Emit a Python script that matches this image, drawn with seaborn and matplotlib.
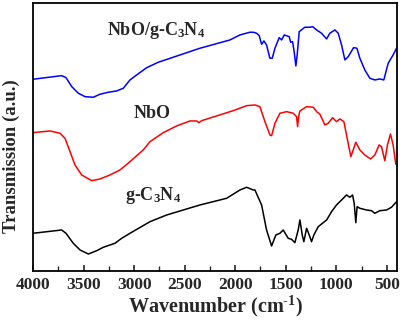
import matplotlib
matplotlib.use("Agg")
import matplotlib.pyplot as plt
import seaborn as sns
import pandas as pd
from matplotlib.ticker import MultipleLocator

# ---- data (wavenumber, transmission in arbitrary offset units) ----
blue_wn = [4000, 3717, 3674, 3617, 3552, 3486, 3404, 3338, 3256, 3173, 3107, 3041, 2975, 2875,
           2761, 2349, 2052, 1953, 1855, 1822, 1789, 1763, 1739, 1716, 1690, 1657, 1634, 1607,
           1565, 1541, 1515, 1466, 1452, 1433, 1417, 1400, 1387, 1367, 1311, 1261, 1235, 1195,
           1146, 1096, 1064, 1014, 981, 948, 915, 882, 829, 796, 767, 718, 668, 619, 569, 530,
           487, 438, 404]
blue_t = [220.7, 224.3, 222.3, 213.3, 206.7, 203.3, 202.7, 205.7, 207.7, 209.0, 211.7, 220.0,
          225.0, 232.3, 237.7, 251.7, 260.0, 265.0, 267.7, 267.7, 266.7, 264.3, 255.7, 259.0,
          255.0, 241.7, 241.7, 251.7, 262.3, 260.0, 265.0, 263.3, 257.7, 258.3, 248.3, 234.0,
          245.0, 268.3, 272.7, 272.7, 273.3, 270.0, 266.7, 261.0, 266.7, 270.0, 266.7, 255.0,
          240.0, 243.3, 252.3, 251.7, 241.7, 230.0, 221.7, 220.0, 221.0, 220.0, 236.7, 245.0,
          251.7]

red_wn = [4000, 3832, 3733, 3684, 3634, 3585, 3519, 3420, 3338, 3239, 3140, 3041, 2910, 2843,
          2712, 2580, 2448, 2382, 2359, 2332, 2184, 2020, 1887, 1805, 1756, 1706, 1657, 1640,
          1607, 1558, 1492, 1426, 1393, 1383, 1373, 1360, 1294, 1228, 1195, 1162, 1113, 1080,
          1037, 998, 965, 925, 899, 856, 807, 767, 718, 661, 619, 576, 553, 520, 494, 464, 438,
          411]
red_t = [167.3, 169.0, 166.7, 161.7, 148.3, 135.0, 125.0, 119.3, 121.0, 125.0, 130.0, 138.3,
         150.0, 158.3, 167.3, 174.0, 179.0, 179.0, 177.3, 179.3, 184.0, 189.3, 194.3, 195.0,
         193.3, 178.3, 165.0, 164.3, 176.7, 186.7, 188.3, 186.7, 183.3, 173.3, 183.3, 189.0,
         193.3, 192.7, 188.3, 185.7, 175.0, 176.7, 182.3, 178.3, 181.0, 178.3, 165.0, 143.3,
         157.7, 150.0, 145.0, 141.0, 145.0, 155.0, 153.3, 139.3, 155.0, 166.0, 155.0, 135.7]

black_wn = [4000, 3717, 3674, 3602, 3535, 3453, 3370, 3305, 3190, 3123, 3041, 2843, 2678, 2349,
            2085, 1953, 1887, 1822, 1805, 1739, 1690, 1640, 1598, 1558, 1525, 1476, 1443, 1410,
            1377, 1360, 1337, 1321, 1294, 1268, 1245, 1222, 1179, 1096, 1047, 998, 948, 899, 866,
            839, 823, 807, 794, 767, 701, 652, 619, 569, 503, 454, 404]
black_t = [66.7, 70.0, 66.7, 56.7, 50.0, 46.0, 49.3, 52.7, 56.7, 61.7, 66.7, 78.3, 85.0, 95.0,
           101.7, 110.0, 112.7, 110.0, 110.0, 95.0, 70.0, 54.0, 65.0, 66.7, 70.0, 61.7, 60.7,
           57.3, 70.0, 80.0, 65.0, 58.3, 71.7, 65.0, 58.3, 65.0, 73.3, 80.0, 88.3, 95.0, 100.0,
           105.0, 102.7, 105.0, 96.7, 77.3, 93.3, 91.7, 90.0, 89.3, 86.7, 89.3, 90.0, 92.7, 98.3]

labels = ["NbO/g-C$_3$N$_4$", "NbO", "g-C$_3$N$_4$"]
x_ticks = [4000, 3500, 3000, 2500, 2000, 1500, 1000, 500]

sns.set_style("ticks")
plt.rcParams['font.family'] = ['Liberation Serif', 'DejaVu Serif']
plt.rcParams['font.weight'] = 'bold'
plt.rcParams['mathtext.fontset'] = 'custom'
plt.rcParams['mathtext.rm'] = 'Liberation Serif:bold'
plt.rcParams['mathtext.it'] = 'Liberation Serif:bold'
plt.rcParams['mathtext.bf'] = 'Liberation Serif:bold'
plt.rcParams['mathtext.default'] = 'rm'

fig = plt.figure(figsize=(4.03, 3.23), dpi=100)
ax = fig.add_axes([0.082, 0.161, 0.903, 0.829])

series = [(blue_wn, blue_t, "#0000ff"), (red_wn, red_t, "#ff0000"), (black_wn, black_t, "#000000")]
for wn, t, c in series:
    df = pd.DataFrame({"wn": wn, "t": t})
    sns.lineplot(data=df, x="wn", y="t", color=c, lw=1.1, ax=ax, sort=False)

ax.set_xlim(4000, 400)
ax.set_ylim(29, 296.7)
ax.set_xticks(x_ticks)
ax.xaxis.set_minor_locator(MultipleLocator(250))
ax.set_yticks([])
ax.tick_params(axis='x', which='major', direction='in', length=4, width=1.2,
               labelsize=12.5, pad=4)
ax.tick_params(axis='x', which='minor', direction='in', length=3.5, width=1.0)
for lab in ax.get_xticklabels():
    lab.set_fontweight('bold')
for s in ax.spines.values():
    s.set_linewidth(1.3)
    s.set_color('black')

ax.set_xlabel("Wavenumber (cm$^{\\text{-1}}$)", fontsize=14.5, fontweight='bold', labelpad=1)
ax.set_ylabel("Transmission (a.u.)", fontsize=13.5, fontweight='bold')
ax.yaxis.set_label_coords(-0.035, 0.43)

ax.text(2779, 269, labels[0], fontsize=13, fontweight='bold', ha='center', va='center')
ax.text(2823, 186, labels[1], fontsize=13, fontweight='bold', ha='center', va='center')
ax.text(2818, 104, labels[2], fontsize=13, fontweight='bold', ha='center', va='center')

fig.savefig("out.png", dpi=100)
